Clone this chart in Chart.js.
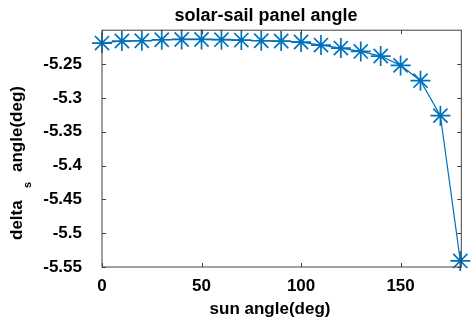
<!DOCTYPE html>
<html>
<head>
<meta charset="utf-8">
<script src="https://cdn.jsdelivr.net/npm/chart.js@4/dist/chart.umd.min.js"></script>
<style>
  html, body { margin: 0; padding: 0; background: #fff; }
  #wrap { width: 473px; height: 320px; }
</style>
</head>
<body>
<div id="wrap"><canvas id="sailChart"></canvas></div>
<script>
// Data
const sunAngle = [0, 10, 20, 30, 40, 50, 60, 70, 80, 90, 100, 110, 120, 130, 140, 150, 160, 170, 180];
const deltaS = [-5.219, -5.216, -5.2156, -5.2141, -5.2137, -5.2137, -5.214, -5.2146, -5.2156, -5.216,
                -5.2175, -5.222, -5.2264, -5.2314, -5.2382, -5.252, -5.2746, -5.3263, -5.541];
const xTicks = [0, 50, 100, 150];
const yTicks = [-5.55, -5.5, -5.45, -5.4, -5.35, -5.3, -5.25];

const matlabBlue = '#0072BD';
const axisGray = '#404040';
const fontFamily = '"Liberation Sans", Arial, Helvetica, sans-serif';

// box, inward ticks on all four sides, title and axis labels (MATLAB look)
const matlabFrame = {
    id: 'matlabFrame',
    afterDraw(chart) {
        const ctx = chart.ctx;
        const a = chart.chartArea;
        const xs = chart.scales.x, ys = chart.scales.y;
        ctx.save();
        ctx.strokeStyle = axisGray;
        ctx.lineWidth = 1;
        ctx.strokeRect(a.left, a.top, a.right - a.left, a.bottom - a.top);
        ctx.beginPath();
        const len = 4;
        xTicks.forEach(v => {
            const px = Math.round(xs.getPixelForValue(v)) + 0.5;
            ctx.moveTo(px, a.bottom); ctx.lineTo(px, a.bottom - len);
            ctx.moveTo(px, a.top); ctx.lineTo(px, a.top + len);
        });
        yTicks.forEach(v => {
            const py = Math.round(ys.getPixelForValue(v)) + 0.5;
            ctx.moveTo(a.left, py); ctx.lineTo(a.left + len, py);
            ctx.moveTo(a.right, py); ctx.lineTo(a.right - len, py);
        });
        ctx.stroke();

        ctx.fillStyle = '#000';
        ctx.textAlign = 'center';
        ctx.textBaseline = 'middle';
        ctx.font = 'bold 18px ' + fontFamily;
        ctx.fillText('solar-sail panel angle', 266, 16);
        ctx.font = 'bold 17px ' + fontFamily;
        ctx.fillText('sun angle(deg)', 270, 309);

        // y label with subscript s
        const piece = (txt, x, yBottom, size) => {
            ctx.save();
            ctx.translate(x, yBottom);
            ctx.rotate(-Math.PI / 2);
            ctx.textAlign = 'left';
            ctx.textBaseline = 'middle';
            ctx.font = 'bold ' + size + 'px ' + fontFamily;
            ctx.fillText(txt, 0, 0);
            ctx.restore();
        };
        piece('delta', 17, 240, 17);
        piece('s', 28, 188, 11);
        piece('angle(deg)', 17, 172, 17);
        ctx.restore();
    }
};

const ctx = document.getElementById('sailChart').getContext('2d');
const sailChart = new Chart(ctx, {
    type: 'line',
    data: {
        datasets: [{
            data: sunAngle.map((x, i) => ({ x: x, y: deltaS[i] })),
            borderColor: matlabBlue,
            borderWidth: 1.2,
            pointStyle: 'star',
            pointRadius: 10,
            pointBorderWidth: 1.7,
            pointBorderColor: matlabBlue,
            pointBackgroundColor: matlabBlue,
            tension: 0,
            fill: false,
            clip: false
        }]
    },
    options: {
        responsive: true,
        maintainAspectRatio: false,
        animation: false,
        layout: { padding: { left: 0, right: 10, top: 30, bottom: 0 } },
        plugins: {
            legend: { display: false },
            tooltip: { enabled: false }
        },
        scales: {
            x: {
                type: 'linear',
                min: 0,
                max: 180.5,
                grid: { display: false, drawTicks: false },
                border: { display: false },
                afterBuildTicks: scale => { scale.ticks = xTicks.map(v => ({ value: v })); },
                afterFit: scale => { scale.height = 53; },
                ticks: {
                    padding: 9,
                    color: '#000',
                    font: { family: fontFamily, size: 17, weight: 'bold' },
                    callback: v => String(v)
                }
            },
            y: {
                type: 'linear',
                min: -5.55,
                max: -5.2,
                grid: { display: false, drawTicks: false },
                border: { display: false },
                afterBuildTicks: scale => { scale.ticks = yTicks.map(v => ({ value: v })); },
                afterFit: scale => { scale.width = 102; },
                ticks: {
                    padding: 20,
                    color: '#000',
                    font: { family: fontFamily, size: 17, weight: 'bold' },
                    callback: v => String(Math.round(v * 100) / 100)
                }
            }
        }
    },
    plugins: [matlabFrame]
});
</script>
</body>
</html>
